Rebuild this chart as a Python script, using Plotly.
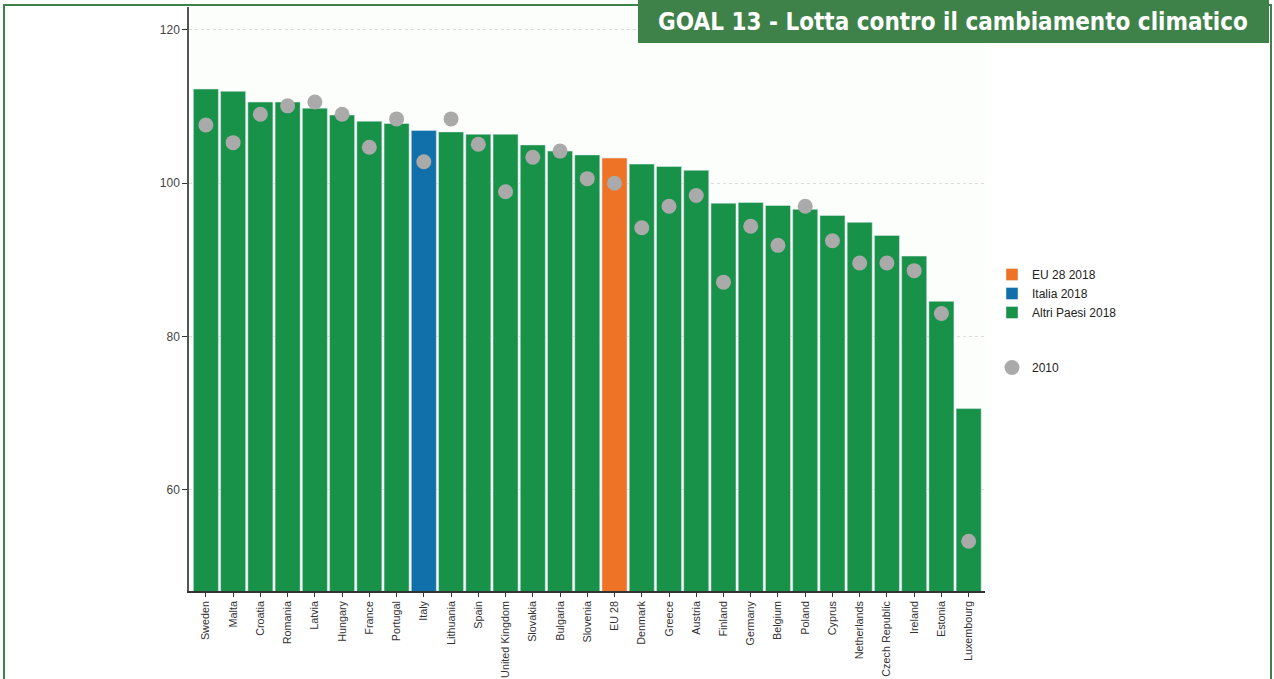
import plotly.graph_objects as go

countries = ["Sweden", "Malta", "Croatia", "Romania", "Latvia", "Hungary", "France", "Portugal",
             "Italy", "Lithuania", "Spain", "United Kingdom", "Slovakia", "Bulgaria", "Slovenia",
             "EU 28", "Denmark", "Greece", "Austria", "Finland", "Germany", "Belgium", "Poland",
             "Cyprus", "Netherlands", "Czech Republic", "Ireland", "Estonia", "Luxembourg"]
values_2018 = [112.3, 112.0, 110.6, 110.6, 109.8, 108.9, 108.1, 107.8,
               106.9, 106.7, 106.4, 106.4, 105.0, 104.2, 103.7,
               103.3, 102.5, 102.2, 101.7, 97.4, 97.5, 97.1, 96.6,
               95.8, 94.9, 93.2, 90.5, 84.6, 70.6]
values_2010 = [107.6, 105.3, 109.0, 110.1, 110.6, 109.0, 104.7, 108.4,
               102.8, 108.4, 105.1, 98.9, 103.4, 104.2, 100.6,
               100.0, 94.2, 97.0, 98.4, 87.1, 94.4, 91.9, 97.0,
               92.5, 89.6, 89.6, 88.6, 83.0, 53.3]
y_ticks = [60, 80, 100, 120]

GREEN = "#189248"
BLUE = "#1170aa"
ORANGE = "#ee7326"
GREY = "#aaaaaa"
FRAME = "#3e8149"

eu_x = [c for c in countries if c == "EU 28"]
eu_y = [v for c, v in zip(countries, values_2018) if c == "EU 28"]
it_x = [c for c in countries if c == "Italy"]
it_y = [v for c, v in zip(countries, values_2018) if c == "Italy"]
ot_x = [c for c in countries if c not in ("EU 28", "Italy")]
ot_y = [v for c, v in zip(countries, values_2018) if c not in ("EU 28", "Italy")]

fig = go.Figure()
fig.add_trace(go.Bar(x=eu_x, y=eu_y, name="EU 28 2018", marker_color=ORANGE,
                     legendgroup="a", hovertemplate="%{x}: %{y}<extra></extra>"))
fig.add_trace(go.Bar(x=it_x, y=it_y, name="Italia 2018", marker_color=BLUE,
                     legendgroup="a", hovertemplate="%{x}: %{y}<extra></extra>"))
fig.add_trace(go.Bar(x=ot_x, y=ot_y, name="Altri Paesi 2018", marker_color=GREEN,
                     legendgroup="a", hovertemplate="%{x}: %{y}<extra></extra>"))
fig.add_trace(go.Scatter(x=countries, y=values_2010, mode="markers", name="2010",
                         marker=dict(color=GREY, size=15), legendgroup="b",
                         hovertemplate="%{x}: %{y}<extra></extra>"))

# plot area pixel geometry
L, R, T, B = 189, 985, 7, 591
W, H = 1274, 679
pw, ph = R - L, B - T

def px(x):
    return (x - L) / pw

def py(y):
    return (B - y) / ph

shapes = [
    # outer green frame
    dict(type="rect", xref="paper", yref="paper", x0=px(4), x1=px(1271), y0=py(5), y1=py(700),
         line=dict(color=FRAME, width=2), fillcolor="rgba(0,0,0,0)", layer="below"),
    # title box
    dict(type="rect", xref="paper", yref="paper", x0=px(638), x1=px(1269), y0=py(0), y1=py(43),
         line=dict(width=0), fillcolor=FRAME, layer="above"),
]

fig.update_layout(
    width=W, height=H,
    margin=dict(l=L, r=W - R, t=T, b=H - B),
    paper_bgcolor="white",
    plot_bgcolor="#fcfefc",
    barmode="overlay",
    bargap=0.08,
    font=dict(family="Liberation Sans, Arial, sans-serif", color="#333333"),
    showlegend=True,
    legend=dict(x=px(992), y=py(260), xanchor="left", yanchor="top",
                font=dict(size=12, color="#222222"), tracegroupgap=36,
                itemwidth=30, bgcolor="rgba(0,0,0,0)"),
    shapes=shapes,
    annotations=[dict(text="<b>GOAL 13 - Lotta contro il cambiamento climatico</b>",
                      xref="paper", yref="paper", x=px(953), y=py(22),
                      xanchor="center", yanchor="middle", showarrow=False,
                      font=dict(size=24, color="white", family="DejaVu Sans Condensed, DejaVu Sans, sans-serif"))],
    xaxis=dict(categoryorder="array", categoryarray=countries, tickangle=-90,
               showline=True, linecolor="#333333", linewidth=1.5, ticks="outside",
               ticklen=4, tickcolor="#333333", tickfont=dict(size=10.8, color="#333333"),
               showgrid=False, range=[-0.62, 28.6], fixedrange=True, automargin=False),
    yaxis=dict(range=[46.8, 123], tickvals=y_ticks, showline=True, linecolor="#555555",
               linewidth=1.5, ticks="outside", ticklen=5, tickcolor="#333333",
               tickfont=dict(size=12, color="#444444"), showgrid=True, automargin=False,
               gridcolor="#dddddd", griddash="dot", gridwidth=1, zeroline=False),
)

fig.write_html("out.html", config={"displayModeBar": False},
               post_script="document.body.style.margin='0';document.body.style.overflow='hidden';")
